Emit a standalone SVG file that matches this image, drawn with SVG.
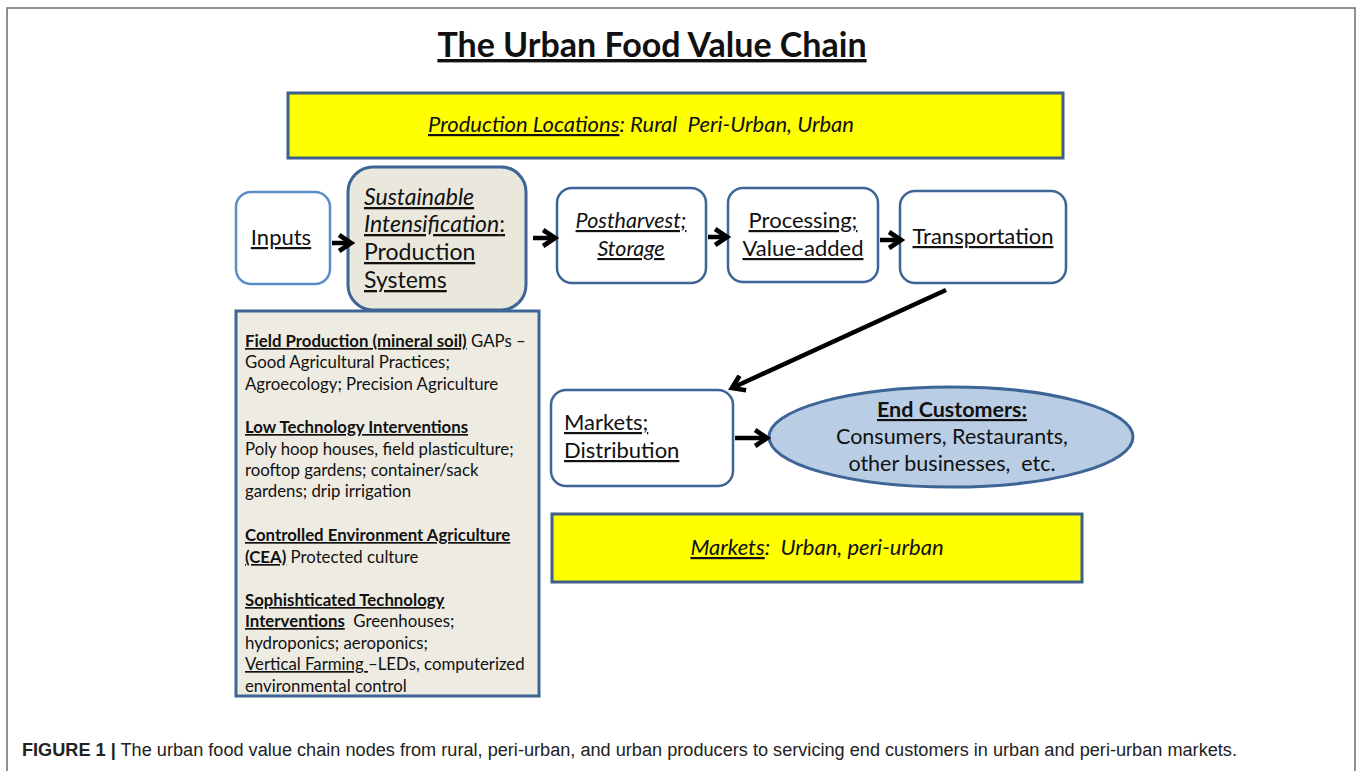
<svg xmlns="http://www.w3.org/2000/svg" width="1358" height="771" viewBox="0 0 1358 771">
  <style>
    .cal { font-family: Lato, "Open Sans", "Liberation Sans", sans-serif; fill: #111; }
    .node { fill: #fff; stroke: #3d6595; stroke-width: 2.5; }
    .band { fill: #ffff00; stroke: #3d5f8c; stroke-width: 3; }
    .conn { stroke: #000; stroke-width: 4.5; fill: none; }
    .u { text-decoration: underline; }
    .i { font-style: italic; }
    .b { font-weight: bold; }
    .lbl { font-size: 22px; }
    .small { font-size: 16.8px; }
  </style>
  <defs>
    <marker id="head" viewBox="0 0 10 10" refX="7" refY="5" markerWidth="4.4" markerHeight="4.4" orient="auto" markerUnits="strokeWidth">
      <path d="M1,1 L7,5 L1,9" fill="none" stroke="#000" stroke-width="2.4" stroke-linejoin="miter"/>
    </marker>
  </defs>

  <rect width="1358" height="771" fill="#fff"/>
  <!-- page frame -->
  <path d="M7,780 L7,8 L1355,8 L1355,780" fill="none" stroke="#6b6b6b" stroke-width="1.5"/>

  <!-- title -->
  <g id="title">
    <text x="652" y="57" text-anchor="middle" class="cal b u" font-size="34">The Urban Food Value Chain</text>
  </g>

  <g id="production-locations">
    <rect x="288" y="93" width="775" height="65" class="band"/>
    <text x="641" y="132" text-anchor="middle" class="cal i" font-size="22"><tspan class="u">Production Locations</tspan>: Rural&#160; Peri-Urban, Urban</text>
  </g>

  <g id="inputs">
    <rect x="236" y="192" width="94" height="92" rx="15" fill="#fff" stroke="#5b8dc8" stroke-width="2.5"/>
    <text x="281" y="245" text-anchor="middle" class="cal lbl u">Inputs</text>
  </g>

  <g id="sustainable-intensification">
    <rect x="348" y="167" width="178" height="143" rx="25" fill="#eae8dd" stroke="#3d6595" stroke-width="3"/>
    <text class="cal" font-size="23"><tspan x="364" y="205" class="i u">Sustainable</tspan><tspan x="364" y="232" class="u"><tspan class="i">Intensification</tspan>:</tspan><tspan x="364" y="260" class="u">Production</tspan><tspan x="364" y="288" class="u">Systems</tspan></text>
  </g>

  <g id="postharvest">
    <rect x="557" y="188" width="149" height="95" rx="15" class="node"/>
    <text text-anchor="middle" class="cal i" font-size="21.5"><tspan x="631" y="228" class="u">Postharvest;</tspan><tspan x="631" y="256" class="u">Storage</tspan></text>
  </g>

  <g id="processing">
    <rect x="728" y="188" width="150" height="94" rx="15" class="node"/>
    <text text-anchor="middle" class="cal lbl"><tspan x="803" y="228" class="u">Processing;</tspan><tspan x="803" y="256" class="u">Value-added</tspan></text>
  </g>

  <g id="transportation">
    <rect x="900" y="191" width="166" height="92" rx="15" class="node"/>
    <text x="983" y="244" text-anchor="middle" class="cal lbl u">Transportation</text>
  </g>

  <g id="production-systems">
    <rect x="236" y="311" width="303" height="385" fill="#eeece2" stroke="#3d6595" stroke-width="3"/>
    <text class="cal small"><tspan x="245" y="347"><tspan class="b u">Field Production (mineral soil)</tspan> GAPs –</tspan><tspan x="245" y="368">Good Agricultural Practices;</tspan><tspan x="245" y="390">Agroecology; Precision Agriculture</tspan><tspan x="245" y="433" class="b u">Low Technology Interventions</tspan><tspan x="245" y="455">Poly hoop houses, field plasticulture;</tspan><tspan x="245" y="476">rooftop gardens; container/sack</tspan><tspan x="245" y="497">gardens; drip irrigation</tspan><tspan x="245" y="541" class="b u">Controlled Environment Agriculture</tspan><tspan x="245" y="563"><tspan class="b u">(CEA)</tspan> Protected culture</tspan><tspan x="245" y="606" class="b u">Sophishticated Technology</tspan><tspan x="245" y="627"><tspan class="b u">Interventions</tspan>&#160; Greenhouses;</tspan><tspan x="245" y="649">hydroponics; aeroponics;</tspan><tspan x="245" y="670"><tspan class="u">Vertical Farming </tspan>–LEDs, computerized</tspan><tspan x="245" y="692">environmental control</tspan></text>
  </g>

  <g id="markets-distribution">
    <rect x="551" y="390" width="182" height="96" rx="15" class="node"/>
    <text class="cal lbl"><tspan x="564" y="430" class="u">Markets;</tspan><tspan x="564" y="458" class="u">Distribution</tspan></text>
  </g>

  <g id="end-customers">
    <ellipse cx="951" cy="437" rx="182" ry="50" fill="#b9cde5" stroke="#3d6595" stroke-width="3"/>
    <text text-anchor="middle" class="cal" font-size="21.5"><tspan x="952" y="417" class="b u">End Customers:</tspan><tspan x="952" y="444">Consumers, Restaurants,</tspan><tspan x="952" y="471">other businesses,&#160; etc.</tspan></text>
  </g>

  <g id="markets-band">
    <rect x="552" y="514" width="530" height="68" class="band"/>
    <text x="817" y="555" text-anchor="middle" class="cal i" font-size="22"><tspan class="u">Markets</tspan>:&#160; Urban, peri-urban</text>
  </g>

  <g id="connectors">
    <line x1="332" y1="243" x2="351" y2="243" class="conn" marker-end="url(#head)"/>
    <line x1="533" y1="238" x2="555" y2="238" class="conn" marker-end="url(#head)"/>
    <line x1="708" y1="237" x2="727" y2="237" class="conn" marker-end="url(#head)"/>
    <line x1="880" y1="240" x2="901" y2="240" class="conn" marker-end="url(#head)"/>
    <line x1="946" y1="290" x2="732" y2="388" class="conn" marker-end="url(#head)"/>
    <line x1="735" y1="438" x2="767" y2="438" class="conn" marker-end="url(#head)"/>
  </g>

  <g id="caption">
    <text x="22" y="756" font-family="'Liberation Sans', Arial, sans-serif" font-size="18" fill="#222" textLength="1215" lengthAdjust="spacingAndGlyphs"><tspan font-weight="bold">FIGURE 1 |</tspan> The urban food value chain nodes from rural, peri-urban, and urban producers to servicing end customers in urban and peri-urban markets.</text>
  </g>
</svg>
